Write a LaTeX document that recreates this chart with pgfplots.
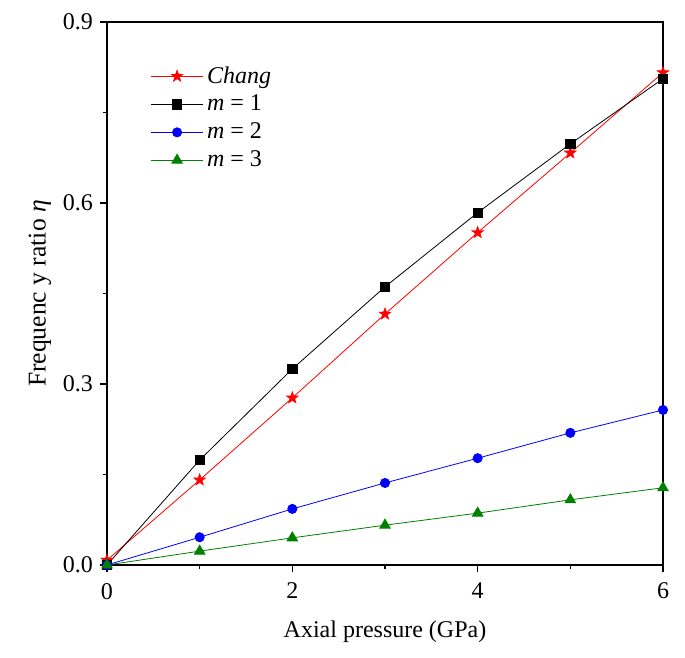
\documentclass[border=0pt]{standalone}
\usepackage{fontspec}
\setmainfont{Liberation Serif}
\usepackage{pgfplots}
\pgfplotsset{compat=1.18}
\pgfdeclareplotmark{fstar}{%
  \pgfpathmoveto{\pgfqpointpolar{90}{\pgfplotmarksize}}%
  \pgfpathlineto{\pgfqpointpolar{126}{0.4\pgfplotmarksize}}%
  \pgfpathlineto{\pgfqpointpolar{162}{\pgfplotmarksize}}%
  \pgfpathlineto{\pgfqpointpolar{198}{0.4\pgfplotmarksize}}%
  \pgfpathlineto{\pgfqpointpolar{234}{\pgfplotmarksize}}%
  \pgfpathlineto{\pgfqpointpolar{270}{0.4\pgfplotmarksize}}%
  \pgfpathlineto{\pgfqpointpolar{306}{\pgfplotmarksize}}%
  \pgfpathlineto{\pgfqpointpolar{342}{0.4\pgfplotmarksize}}%
  \pgfpathlineto{\pgfqpointpolar{18}{\pgfplotmarksize}}%
  \pgfpathlineto{\pgfqpointpolar{54}{0.4\pgfplotmarksize}}%
  \pgfpathclose
  \pgfusepathqfillstroke}
\begin{document}
\begin{tikzpicture}
\begin{axis}[
  scale only axis,
  width=278pt, height=271.5pt,
  xmin=0, xmax=6, ymin=0, ymax=0.9,
  xtick={0,2,4,6}, ytick={0,0.3,0.6,0.9},
  minor xtick={1,3,5}, minor ytick={0.15,0.45,0.75},
  xtick pos=left, ytick pos=left,
  tick align=outside,
  major tick length=3.5pt, minor tick length=2pt,
  axis line style={line width=0.9pt},
  every tick/.style={line width=0.7pt, black},
  /pgf/number format/assume math mode=true,
  y tick label style={/pgf/number format/fixed, /pgf/number format/fixed zerofill, /pgf/number format/precision=1},
  tick label style={font=\fontsize{12}{14}\selectfont},
  x tick label style={yshift=-2pt},
  xlabel={Axial pressure (GPa)},
  ylabel={Frequenc y ratio \textit{η}},
  xlabel style={font=\fontsize{12}{14}\selectfont, yshift=-4pt},
  ylabel style={font=\fontsize{12.8}{15}\selectfont, yshift=-1pt},
  clip=false,
  legend style={draw=none, fill=none, at={(0.075,0.93)}, anchor=north west,
    font=\fontsize{12}{14}\selectfont, row sep=0.5pt, legend cell align=left,
    inner sep=1pt},
  legend image code/.code={\draw[mark repeat=2,mark phase=2] plot coordinates {(0cm,0cm)(0.45cm,0cm)(0.9cm,0cm)};},
]
\addplot[red, line width=0.4pt, mark=fstar, mark size=3.2pt, mark options={fill=red, line width=0.2pt}]
  coordinates {(0,0.008) (1,0.141) (2,0.277) (3,0.416) (4,0.551) (5,0.683) (6,0.816)};
\addlegendentry{\textit{Chang}}
\addplot[black, line width=0.4pt, mark=square*, mark size=2.3pt, mark options={fill=black}]
  coordinates {(0,0) (1,0.174) (2,0.325) (3,0.461) (4,0.584) (5,0.698) (6,0.806)};
\addlegendentry{\textit{m} = 1}
\addplot[blue, line width=0.4pt, mark=*, mark size=2.3pt, mark options={fill=blue}]
  coordinates {(0,0) (1,0.046) (2,0.093) (3,0.136) (4,0.177) (5,0.219) (6,0.257)};
\addlegendentry{\textit{m} = 2}
\addplot[black!50!green, line width=0.4pt, mark=triangle*, mark size=3pt, mark options={fill=black!50!green}]
  coordinates {(0,0) (1,0.023) (2,0.045) (3,0.066) (4,0.086) (5,0.108) (6,0.128)};
\addlegendentry{\textit{m} = 3}
\draw[line width=0.9pt] (rel axis cs:0,1) -- (rel axis cs:1,1) -- (rel axis cs:1,0);
\path (rel axis cs:0,0) ++(-53.5pt,-46.5pt) coordinate (bbsw);
\path (rel axis cs:1,1) ++(11pt,11pt) coordinate (bbne);
\path (bbsw) rectangle (bbne);
\end{axis}
\end{tikzpicture}
\end{document}
